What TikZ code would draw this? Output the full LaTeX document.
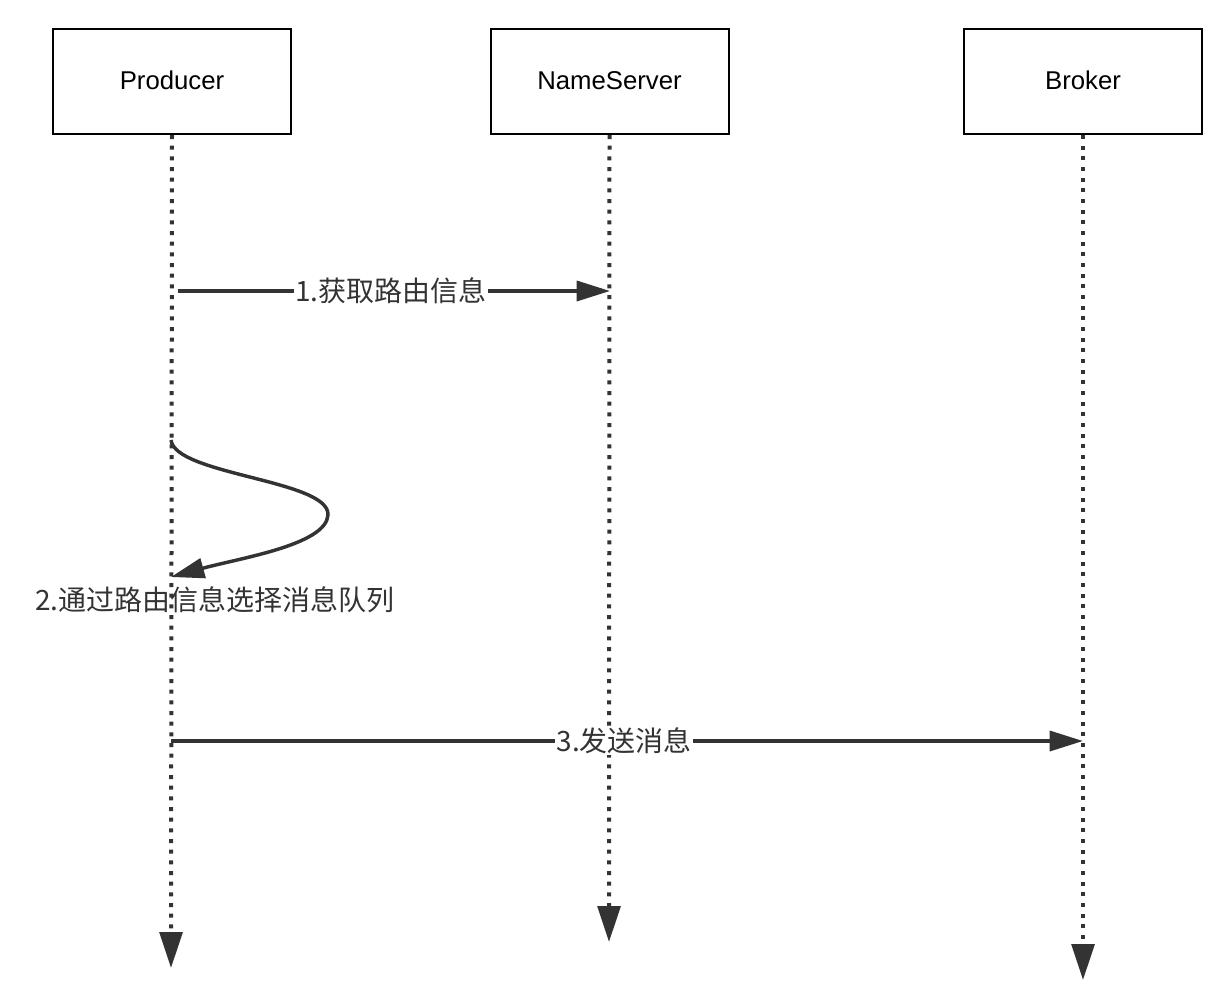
\documentclass[tikz,border=0pt]{standalone}
\usepackage{fontspec}
\setmainfont{Liberation Sans}
\newfontfamily\cjk{Noto Sans CJK SC}
\usetikzlibrary{arrows.meta}
\definecolor{ink}{HTML}{333333}
\tikzset{
  actor/.style={draw=black, line width=1.5pt, minimum width=178.5pt, minimum height=78.75pt, font=\fontsize{19.3}{21}\selectfont, text=black, inner sep=0pt},
  life/.style={draw=ink, line width=3pt, dash pattern=on 3pt off 5pt, -{Triangle[length=27pt,width=17pt]}},
  msg/.style={draw=ink, line width=2.6pt, -{Triangle[length=25pt,width=15pt]}},
  lbl/.style={font=\cjk\fontsize{21}{24}\selectfont, text=ink, inner sep=1pt},
}
\begin{document}
\begin{tikzpicture}[x=0.75pt,y=-0.75pt]
\useasboundingbox (0,0) rectangle (1216,1000);
\node[actor] (prod) at (172,81.5) {\raisebox{2pt}{Producer}};
\node[actor] (ns) at (609.5,81.5) {\raisebox{2pt}{NameServer}};
\node[actor] (brk) at (1083,81.5) {\raisebox{2pt}{Broker}};
\coordinate (pend) at (171,968);
\coordinate (nend) at (609,942);
\coordinate (bend) at (1083,980);
\draw[life] (prod.south) -- (pend);
\draw[life] (ns.south) -- (nend);
\draw[life] (brk.south) -- (bend);
% message 1
\coordinate (m1s) at (178,291);
\coordinate (m1e) at (610,291);
\draw[msg] (m1s) -- node[lbl, fill=white, pos=0.493] (l1) {1.获取路由信息} (m1e);
% self message 2
\coordinate (m2s) at (171,440);
\coordinate (m2e) at (171,577);
\draw[msg] (m2s) .. controls (175,475) and (330,480) .. (328,515) .. controls (326,545) and (240,558) .. (m2e);
\node[lbl] (l2) at (215,600) {2.通过路由信息选择消息队列};
% message 3
\coordinate (m3s) at (171,741);
\coordinate (m3e) at (1083,741);
\draw[msg] (m3s) -- node[lbl, fill=white, pos=0.497] (l3) {3.发送消息} (m3e);
\end{tikzpicture}
\end{document}
